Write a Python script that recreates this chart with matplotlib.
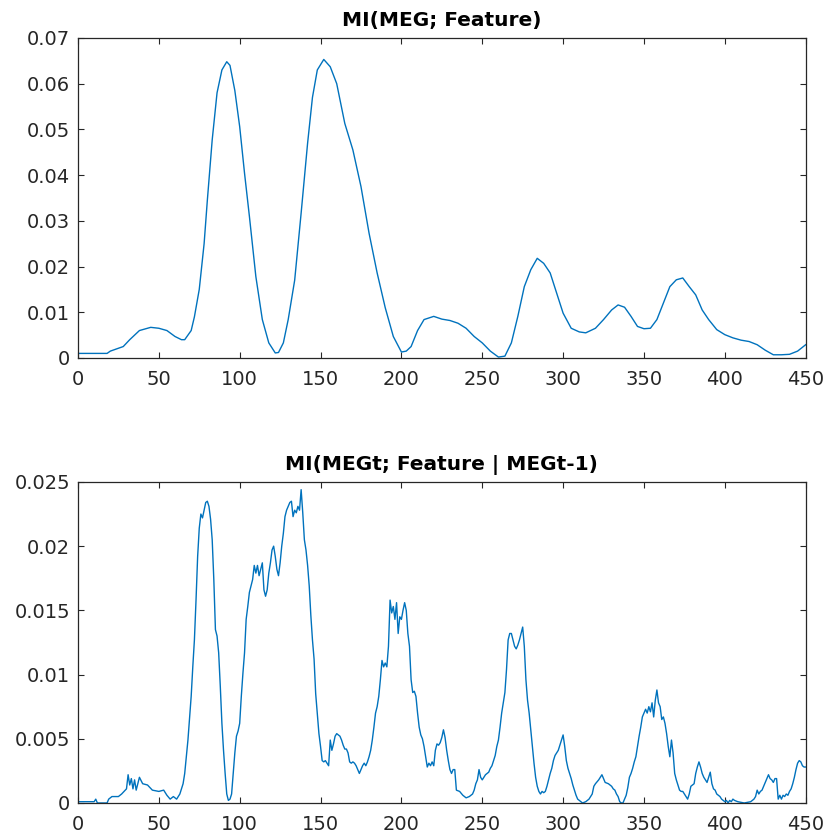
import matplotlib
matplotlib.use('Agg')
import matplotlib.pyplot as plt

# MI(MEG; Feature) -- smooth curve
mi_x = [0, 10, 18, 20, 28, 32, 38, 45, 50, 55,
        60, 64, 66, 70, 72, 75, 78, 80, 83, 86,
        89, 92, 94, 97, 100, 103, 106, 110, 114, 118,
        122, 124, 127, 130, 134, 138, 142, 145, 148, 152,
        156, 160, 165, 170, 175, 180, 185, 190, 195, 200,
        203, 206, 210, 214, 220, 225, 230, 235, 240, 245,
        250, 255, 260, 264, 268, 272, 276, 280, 284, 288,
        292, 296, 300, 305, 310, 314, 320, 325, 330, 334,
        338, 342, 346, 350, 354, 358, 362, 366, 370, 374,
        378, 382, 386, 390, 395, 400, 405, 410, 415, 420,
        425, 430, 435, 440, 445, 450]
mi_y = [0.001, 0.001, 0.001, 0.0015, 0.0025, 0.004, 0.006, 0.0067, 0.0065, 0.006,
        0.0047, 0.004, 0.004, 0.006, 0.009, 0.015, 0.025, 0.0345, 0.0477, 0.058,
        0.063, 0.0648, 0.064, 0.0585, 0.0506, 0.0404, 0.031, 0.0178, 0.0084, 0.0033,
        0.0011, 0.0012, 0.0033, 0.0084, 0.017, 0.0317, 0.047, 0.057, 0.063, 0.0653,
        0.0637, 0.060, 0.0513, 0.0455, 0.0375, 0.0273, 0.0186, 0.011, 0.0047, 0.0013,
        0.0015, 0.0025, 0.006, 0.0084, 0.0091, 0.0085, 0.0082, 0.0076, 0.0065, 0.0047,
        0.0033, 0.0015, 0.0002, 0.0004, 0.0033, 0.0091, 0.0156, 0.0193, 0.0218, 0.0207,
        0.0186, 0.0142, 0.0098, 0.0065, 0.0057, 0.0055, 0.0065, 0.0084, 0.0105, 0.0116,
        0.0111, 0.0091, 0.0069, 0.0064, 0.0065, 0.0084, 0.012, 0.0156, 0.0171, 0.0175,
        0.0156, 0.0138, 0.0105, 0.0084, 0.0062, 0.0051, 0.0044, 0.0039, 0.0036, 0.0029,
        0.0017, 0.0007, 0.0007, 0.0008, 0.0015, 0.0029]

# MI(MEGt; Feature | MEGt-1) -- noisy curve
cmi_x = [0, 10, 11, 12, 18, 19, 21, 25, 27, 30,
         31, 32, 33, 34, 35, 36, 37, 38, 40, 43,
         46, 50, 53, 55, 57, 59, 61, 63, 65, 66,
         68, 70, 71, 72, 73, 74, 75, 76, 77, 78,
         79, 80, 81, 82, 83, 84, 85, 86, 87, 88,
         89, 90, 91, 92, 93, 94, 95, 96, 97, 98,
         99, 100, 101, 102, 103, 104, 105, 106, 107, 108,
         109, 110, 111, 112, 113, 114, 115, 116, 117, 118,
         119, 120, 121, 122, 123, 124, 125, 126, 127, 128,
         129, 130, 131, 132, 133, 134, 135, 136, 137, 138,
         139, 140, 141, 142, 143, 144, 145, 146, 147, 148,
         149, 150, 151, 152, 153, 154, 155, 156, 157, 158,
         159, 160, 161, 162, 163, 164, 165, 166, 167, 168,
         169, 170, 171, 172, 173, 174, 175, 176, 177, 178,
         179, 180, 181, 182, 183, 184, 185, 186, 187, 188,
         189, 190, 191, 192, 193, 194, 195, 196, 197, 198,
         199, 200, 201, 202, 203, 204, 205, 206, 207, 208,
         209, 210, 211, 212, 213, 214, 215, 216, 217, 218,
         219, 220, 221, 222, 223, 224, 225, 226, 227, 228,
         229, 230, 231, 232, 233, 234, 236, 238, 240, 242,
         244, 245, 246, 247, 248, 249, 250, 251, 252, 253,
         254, 255, 256, 257, 258, 259, 260, 261, 262, 263,
         264, 265, 266, 267, 268, 269, 270, 271, 272, 273,
         274, 275, 276, 277, 278, 279, 280, 281, 282, 283,
         284, 285, 286, 287, 288, 289, 290, 291, 292, 293,
         294, 295, 296, 297, 298, 299, 300, 301, 302, 303,
         304, 305, 306, 307, 308, 309, 310, 312, 314, 316,
         318, 319, 320, 322, 324, 325, 326, 328, 330, 331,
         332, 333, 334, 335, 336, 337, 338, 339, 340, 341,
         342, 343, 344, 345, 346, 347, 348, 349, 350, 351,
         352, 353, 354, 355, 356, 357, 358, 359, 360, 361,
         362, 363, 364, 365, 366, 367, 368, 369, 370, 371,
         372, 373, 374, 375, 376, 377, 378, 379, 380, 381,
         382, 383, 384, 385, 386, 387, 388, 389, 390, 391,
         392, 393, 394, 395, 396, 397, 398, 399, 400, 401,
         402, 403, 404, 405, 406, 408, 412, 416, 418, 419,
         420, 421, 422, 423, 424, 425, 426, 427, 428, 429,
         430, 431, 432, 433, 434, 435, 436, 437, 438, 439,
         440, 441, 442, 443, 444, 445, 446, 447, 448, 449,
         450]
cmi_y = [0.0001, 0.0001, 0.0003, 0.0, 0.0, 0.0003, 0.0005, 0.0005, 0.0007, 0.0011,
         0.0022, 0.0014, 0.0019, 0.0011, 0.0018, 0.001, 0.0015, 0.002, 0.0015, 0.0014,
         0.001, 0.0009, 0.001, 0.0006, 0.0003, 0.0005, 0.0003, 0.0007, 0.0015, 0.0023,
         0.0049, 0.0083, 0.0106, 0.0127, 0.0158, 0.0192, 0.0214, 0.0225, 0.0222, 0.0228,
         0.0234, 0.0235, 0.0231, 0.0221, 0.0205, 0.0174, 0.0135, 0.013, 0.0117, 0.0091,
         0.0062, 0.0041, 0.0023, 0.0007, 0.0002, 0.0003, 0.0007, 0.0023, 0.0039, 0.0052,
         0.0056, 0.0062, 0.0083, 0.0101, 0.0117, 0.0143, 0.0153, 0.0164, 0.0169, 0.0174,
         0.0185, 0.0179, 0.0185, 0.0177, 0.0182, 0.0187, 0.0166, 0.0161, 0.0166, 0.0179,
         0.0187, 0.0197, 0.02, 0.0192, 0.0182, 0.0177, 0.0187, 0.02, 0.021, 0.0223,
         0.0228, 0.0231, 0.0234, 0.0235, 0.0223, 0.0228, 0.0226, 0.0231, 0.0228, 0.0244,
         0.0226, 0.0205, 0.0197, 0.0185, 0.0169, 0.0146, 0.0127, 0.0112, 0.0085, 0.007,
         0.0054, 0.0044, 0.0033, 0.0032, 0.0033, 0.0031, 0.0029, 0.0049, 0.0041, 0.0046,
         0.0052, 0.0054, 0.0053, 0.0052, 0.0049, 0.0045, 0.0042, 0.0042, 0.0039, 0.0032,
         0.0031, 0.0032, 0.0031, 0.0029, 0.0026, 0.0023, 0.0026, 0.0029, 0.0031, 0.0029,
         0.0032, 0.0036, 0.0041, 0.0049, 0.0059, 0.007, 0.0075, 0.0083, 0.0096, 0.0111,
         0.0106, 0.0109, 0.0106, 0.0122, 0.0158, 0.0148, 0.0153, 0.0143, 0.0156, 0.0132,
         0.0145, 0.0143, 0.015, 0.0156, 0.015, 0.0132, 0.0122, 0.0096, 0.0086, 0.0087,
         0.0083, 0.007, 0.0059, 0.0053, 0.005, 0.0044, 0.0036, 0.0028, 0.0031, 0.0029,
         0.0032, 0.0029, 0.0041, 0.0046, 0.0045, 0.0047, 0.0051, 0.0057, 0.0051, 0.0041,
         0.0033, 0.0026, 0.0023, 0.0026, 0.0026, 0.001, 0.0009, 0.0006, 0.0004, 0.0005,
         0.0007, 0.001, 0.0015, 0.0018, 0.0026, 0.002, 0.0018, 0.002, 0.0022, 0.0023,
         0.0024, 0.0027, 0.0029, 0.0033, 0.0037, 0.0044, 0.0049, 0.0059, 0.007, 0.0078,
         0.0086, 0.0104, 0.0127, 0.0132, 0.0132, 0.0127, 0.0122, 0.012, 0.0123, 0.0127,
         0.0132, 0.0137, 0.0122, 0.0096, 0.008, 0.007, 0.0057, 0.0044, 0.0031, 0.002,
         0.0013, 0.0009, 0.0007, 0.0009, 0.0008, 0.0009, 0.0013, 0.0018, 0.0023, 0.0027,
         0.0033, 0.0037, 0.0039, 0.0041, 0.0045, 0.0049, 0.0053, 0.0044, 0.0033, 0.0027,
         0.0023, 0.0019, 0.0014, 0.001, 0.0006, 0.0003, 0.0002, 0.0, 0.0001, 0.0003,
         0.0007, 0.0013, 0.0015, 0.0018, 0.0022, 0.0019, 0.0016, 0.0015, 0.0013, 0.0011,
         0.001, 0.0007, 0.0005, 0.0001, 0.0, 0.0, 0.0003, 0.0006, 0.0012, 0.002,
         0.0023, 0.0027, 0.0032, 0.0036, 0.0044, 0.0052, 0.0059, 0.0067, 0.007, 0.0073,
         0.007, 0.0075, 0.0071, 0.0078, 0.0067, 0.008, 0.0088, 0.0078, 0.0075, 0.0065,
         0.0067, 0.0062, 0.0054, 0.0044, 0.0036, 0.0049, 0.0039, 0.0023, 0.0018, 0.0014,
         0.001, 0.0009, 0.0009, 0.0007, 0.0005, 0.0003, 0.0007, 0.0013, 0.0014, 0.0015,
         0.0023, 0.0028, 0.0032, 0.0028, 0.0023, 0.002, 0.0018, 0.0016, 0.002, 0.0024,
         0.0015, 0.0011, 0.001, 0.0007, 0.0006, 0.0005, 0.0003, 0.0002, 0.0001, 0.0002,
         0.0, 0.0002, 0.0001, 0.0003, 0.0002, 0.0001, 0.0, 0.0001, 0.0003, 0.0005,
         0.001, 0.0007, 0.0009, 0.001, 0.0013, 0.0016, 0.0019, 0.0022, 0.0019, 0.0018,
         0.0016, 0.0019, 0.0019, 0.0003, 0.0006, 0.0003, 0.0006, 0.0005, 0.0007, 0.0006,
         0.0009, 0.0011, 0.0015, 0.002, 0.0026, 0.0031, 0.0033, 0.0032, 0.0029, 0.0028,
         0.0028]

x_ticks = [0, 50, 100, 150, 200, 250, 300, 350, 400, 450]
top_yticks = [0, 0.01, 0.02, 0.03, 0.04, 0.05, 0.06, 0.07]
top_ylabels = ['0', '0.01', '0.02', '0.03', '0.04', '0.05', '0.06', '0.07']
bot_yticks = [0, 0.005, 0.01, 0.015, 0.02, 0.025]
bot_ylabels = ['0', '0.005', '0.01', '0.015', '0.02', '0.025']

line_color = '#0072BD'
axis_color = '#262626'
plt.rcParams['font.family'] = ['DejaVu Sans']

fig = plt.figure(figsize=(8.26, 8.36), dpi=100)
ax1 = fig.add_axes([0.0944, 0.5718, 0.881, 0.3828])
ax2 = fig.add_axes([0.0944, 0.0395, 0.881, 0.384])


def style(ax, yticks, ylabels, title):
    ax.set_xlim(0, 450)
    ax.set_ylim(yticks[0], yticks[-1])
    ax.set_xticks(x_ticks)
    ax.set_xticklabels([str(t) for t in x_ticks])
    ax.set_yticks(yticks)
    ax.set_yticklabels(ylabels)
    ax.tick_params(direction='in', length=4.5, width=0.8, colors=axis_color,
                   labelsize=14, top=True, right=True, pad=5.5)
    ax.tick_params(axis='x', pad=9)
    for s in ax.spines.values():
        s.set_color(axis_color)
        s.set_linewidth(0.9)
    ax.set_title(title, fontsize=14.5, fontweight='bold', color='black', pad=8.5)


ax1.plot(mi_x, mi_y, color=line_color, linewidth=1.0)
style(ax1, top_yticks, top_ylabels, 'MI(MEG; Feature)')

ax2.plot(cmi_x, cmi_y, color=line_color, linewidth=1.0)
style(ax2, bot_yticks, bot_ylabels, 'MI(MEGt; Feature | MEGt-1)')

fig.savefig('out.png', dpi=100)
